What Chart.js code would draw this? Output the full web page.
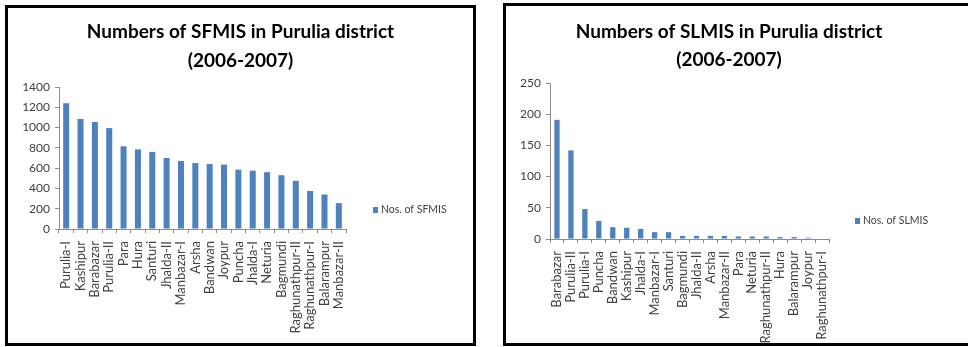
<!DOCTYPE html>
<html>
<head>
<meta charset="utf-8">
<script src="https://cdn.jsdelivr.net/npm/chart.js@4"></script>
<style>
  html, body { margin: 0; padding: 0; background: #fff; width: 968px; height: 347px; overflow: hidden; }
  .box { position: absolute; border: 3px solid #000; background: #fff; }
  #leftBox { left: 5px; top: 5px; width: 465px; height: 335px; }
  #rightBox { left: 503px; top: 3px; width: 480px; height: 337px; }
  canvas { display: block; }
</style>
</head>
<body>
<div class="box" id="leftBox"><canvas id="sfmisChart" width="465" height="335"></canvas></div>
<div class="box" id="rightBox"><canvas id="slmisChart" width="446" height="337"></canvas></div>
<script>
// SFMIS per block, 2006-2007
const sfmisBlocks = ['Purulia-I', 'Kashipur', 'Barabazar', 'Purulia-II', 'Para', 'Hura', 'Santuri', 'Jhalda-II',
    'Manbazar-I', 'Arsha', 'Bandwan', 'Joypur', 'Puncha', 'Jhalda-I', 'Neturia', 'Bagmundi',
    'Raghunathpur-II', 'Raghunathpur-I', 'Balarampur', 'Manbazar-II'];
const sfmisCounts = [1240, 1085, 1055, 995, 815, 785, 760, 700, 670, 650, 640, 635, 585, 575, 560, 530, 475, 375, 340, 255];

// SLMIS per block, 2006-2007
const slmisBlocks = ['Barabazar', 'Purulia-II', 'Purulia-I', 'Puncha', 'Bandwan', 'Kashipur', 'Jhalda-I', 'Manbazar-I',
    'Santuri', 'Bagmundi', 'Jhalda-II', 'Arsha', 'Manbazar-II', 'Para', 'Neturia', 'Raghunathpur-II',
    'Hura', 'Balarampur', 'Joypur', 'Raghunathpur-I'];
const slmisCounts = [191, 142, 48, 29, 19, 18, 16, 11, 11, 5, 5, 5, 5, 4, 4, 4, 3, 3, 2, 0];

const barColor = '#4F81BD';
const axisColor = '#8C8C8C';
const labelColor = '#404040';

// small legend drawn where Excel put it (right side, below middle)
const legendAt = {
    id: 'legendAt',
    afterDraw(chart, args, opts) {
        const ds = chart.data.datasets[0];
        const ctx = chart.ctx;
        ctx.save();
        ctx.fillStyle = ds.backgroundColor;
        ctx.fillRect(opts.x, opts.y - 3, 5, 6);
        ctx.fillStyle = labelColor;
        ctx.font = '10.5px Lato';
        ctx.textBaseline = 'middle';
        ctx.fillText(ds.label, opts.x + 8, opts.y);
        ctx.restore();
    }
};

function drawBarChart(id, cfg) {
    const ctx = document.getElementById(id).getContext('2d');
    return new Chart(ctx, {
        type: 'bar',
        data: {
            labels: cfg.labels,
            datasets: [{
                label: cfg.label,
                data: cfg.values,
                backgroundColor: barColor,
                borderWidth: 0,
                barPercentage: cfg.barPct,
                categoryPercentage: 1,
                yAxisID: 'y'
            }]
        },
        plugins: [legendAt],
        options: {
            responsive: false,
            animation: false,
            layout: { padding: 0 },
            plugins: {
                legend: { display: false },
                tooltip: { enabled: false },
                title: {
                    display: true,
                    text: cfg.title,
                    color: '#000',
                    font: { family: 'Lato', size: 19, weight: 'bold', lineHeight: cfg.titleLine },
                    padding: cfg.titlePad
                },
                legendAt: cfg.legend
            },
            scales: {
                x: {
                    offset: true,
                    grid: { offset: true, drawOnChartArea: false, drawTicks: true, tickLength: 4, color: axisColor },
                    border: { color: axisColor },
                    ticks: { autoSkip: false, minRotation: 90, maxRotation: 90, padding: 8, color: labelColor, font: { family: 'Lato', size: 13 } },
                    afterFit: s => { s.height = cfg.xHeight; }
                },
                y: {
                    min: 0,
                    max: cfg.yMax,
                    ticks: {
                        stepSize: cfg.yStep, padding: 5, color: labelColor, font: { family: 'Lato', size: 12 },
                        callback: v => String(v)
                    },
                    grid: { drawOnChartArea: false, drawTicks: true, tickLength: 4, color: axisColor },
                    border: { color: axisColor },
                    afterFit: s => { s.width = cfg.yWidth; }
                },
                spare: {
                    position: 'right',
                    grid: { display: false },
                    border: { display: false },
                    ticks: { display: false },
                    afterFit: s => { s.width = cfg.rightWidth; }
                }
            }
        }
    });
}

drawBarChart('sfmisChart', {
    labels: sfmisBlocks,
    values: sfmisCounts,
    label: 'Nos. of SFMIS',
    title: ['Numbers of SFMIS in Purulia district', '(2006-2007)'],
    titleLine: 29 / 19,
    titlePad: { top: 9, bottom: 12 },
    yMax: 1400, yStep: 200,
    yWidth: 51, rightWidth: 127, xHeight: 114,
    barPct: 0.42,
    legend: { x: 365, y: 202 }
});

drawBarChart('slmisChart', {
    labels: slmisBlocks,
    values: slmisCounts,
    label: 'Nos. of SLMIS',
    title: ['Numbers of SLMIS in Purulia district', '(2006-2007)'],
    titleLine: 28 / 19,
    titlePad: { top: 12, bottom: 9 },
    yMax: 250, yStep: 50,
    yWidth: 44, rightWidth: 123, xHeight: 104,
    barPct: 0.38,
    legend: { x: 349, y: 215 }
});
</script>
</body>
</html>
